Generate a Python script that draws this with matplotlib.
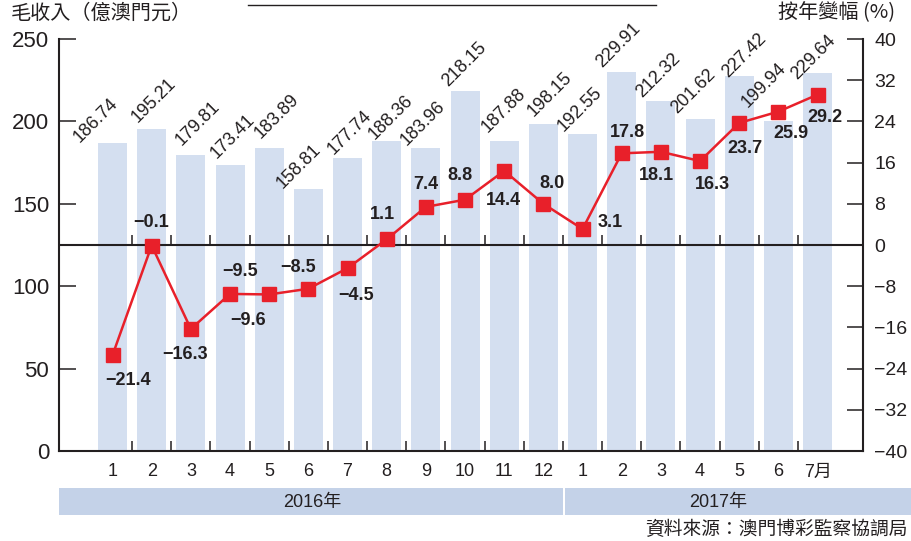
import matplotlib
matplotlib.use('Agg')
import matplotlib.pyplot as plt
from matplotlib.patches import Rectangle
from matplotlib.lines import Line2D

plt.rcParams['font.family'] = ['Liberation Sans', 'Noto Sans CJK TC', 'DejaVu Sans']

# 資料
months = ['1', '2', '3', '4', '5', '6', '7', '8', '9', '10', '11', '12',
          '1', '2', '3', '4', '5', '6', '7月']
revenue = [186.74, 195.21, 179.81, 173.41, 183.89, 158.81, 177.74, 188.36, 183.96,
           218.15, 187.88, 198.15, 192.55, 229.91, 212.32, 201.62, 227.42, 199.94, 229.64]
growth = [-21.4, -0.1, -16.3, -9.5, -9.6, -8.5, -4.5, 1.1, 7.4, 8.8, 14.4, 8.0,
          3.1, 17.8, 18.1, 16.3, 23.7, 25.9, 29.2]
years = ['2016年', '2017年']

# label nudges (pixels)
bar_lab_dx = [-33, -14, -9, -13, -9, -26, -14, -12, -19, -17, -17, -10, -19, -20, -19, -23, -11, -31, -20]
bar_lab_dy = [0, 6, 9, 6, 9, 0, 3, 1, 2, 4, 8, 7, 2, 4, 3, 5, -2, 13, -7]
g_lab_dx = [16, -1, -6, 10, -21, -10, 9, -4, 0, -5, -1, 9, 28, 6, -4, 12, 6, 13, 7]
g_lab_dy = [-25, 23, -26, 22, -26, 21, -27, 25, 22, 24, -30, 20, 7, 21, -24, -23, -26, -22, -23]

dark = '#231f20'
bar_col = '#d4dff0'
band_col = '#c4d2e8'
red = '#e8202a'

W, H = 911, 541
fig = plt.figure(figsize=(W / 100, H / 100), dpi=100)
ax = fig.add_axes([59 / W, (H - 451) / H, (863 - 59) / W, (451 - 39) / H])
ax2 = ax.twinx()

x = list(range(len(months)))
ax.bar(x, revenue, width=0.74, color=bar_col, zorder=1)
ax.set_xlim(-1.366, 19.16)
ax.set_ylim(0, 250)
ax.set_yticks([0, 50, 100, 150, 200, 250])
ax.tick_params(axis='y', direction='in', length=12, width=1.1, color=dark,
               labelsize=16, pad=7, labelcolor=dark)
ax.set_xticks(x)
ax.set_xticklabels(months)
ax.tick_params(axis='x', which='major', length=0, labelsize=13, pad=9, labelcolor=dark)
ax.set_xticks([i + 0.5 for i in range(len(months) - 1)], minor=True)
ax.tick_params(axis='x', which='minor', direction='in', length=7, width=1.1, color=dark)

for i, v in enumerate(revenue):
    ax.annotate(f'{v:.2f}', (i, v), xytext=(bar_lab_dx[i], bar_lab_dy[i]),
                textcoords='offset pixels', rotation=45, rotation_mode='anchor',
                ha='left', va='baseline', fontsize=13, color=dark)

for s in ['top', 'right']:
    ax.spines[s].set_visible(False)
for s in ['left', 'bottom']:
    ax.spines[s].set_linewidth(1.5)
    ax.spines[s].set_color(dark)

ax2.set_ylim(-40, 40)
ax2.set_yticks(range(-40, 41, 8))
ax2.tick_params(axis='y', direction='in', length=11.5, width=1.1, color=dark,
                labelsize=14, pad=8, labelcolor=dark)
for s in ['top', 'left', 'bottom']:
    ax2.spines[s].set_visible(False)
ax2.spines['right'].set_linewidth(1.5)
ax2.spines['right'].set_color(dark)

ax2.axhline(0, color=dark, lw=1.5, zorder=2)
ax2.vlines([-1.366] + [i + 0.5 for i in range(len(months) - 1)], 0, 1.9,
           color=dark, lw=1.1, zorder=2)

ax2.plot(x, growth, color=red, lw=1.8, marker='s', markersize=9.5, zorder=4)
for i, g in enumerate(growth):
    ax2.annotate(f'{g:.1f}'.replace('-', '\u2212'), (i, g), xytext=(g_lab_dx[i], g_lab_dy[i]),
                 textcoords='offset pixels', ha='center', va='center',
                 fontsize=13, fontweight='bold', color=dark,
                 family=['Liberation Sans', 'DejaVu Sans'], zorder=5)

# year band
fig.add_artist(Rectangle((59 / W, (H - 515) / H), (563 - 59) / W, 27 / H,
                         transform=fig.transFigure, color=band_col, lw=0))
fig.add_artist(Rectangle((565 / W, (H - 515) / H), (911 - 565) / W, 27 / H,
                         transform=fig.transFigure, color=band_col, lw=0))
fig.text(312 / W, 1 - 502 / H, years[0], ha='center', va='center', fontsize=13, color=dark)
fig.text(718 / W, 1 - 502 / H, years[1], ha='center', va='center', fontsize=13, color=dark)

# titles
cjk = ['Noto Sans CJK TC', 'DejaVu Sans']
fig.text(11 / W, 1 - 13 / H, '毛收入（億澳門元）', ha='left', va='center', fontsize=14.5,
         color=dark, family=cjk)
fig.text(895 / W, 1 - 13 / H, '按年變幅 (%)', ha='right', va='center', fontsize=14.5,
         color=dark, family=cjk)
fig.add_artist(Line2D([248 / W, 656 / W], [1 - 5 / H, 1 - 5 / H],
                      transform=fig.transFigure, color=dark, lw=1))
fig.text(908 / W, 1 - 530 / H, '資料來源：澳門博彩監察協調局', ha='right', va='center',
         fontsize=13.5, color=dark, family=cjk)

fig.savefig('out.png', dpi=100)
